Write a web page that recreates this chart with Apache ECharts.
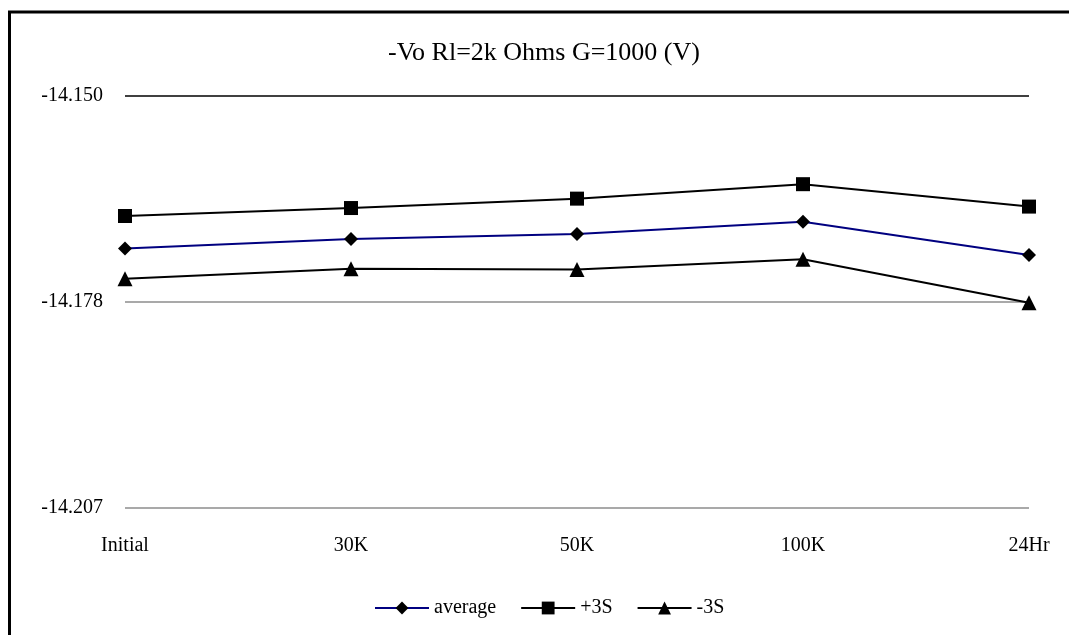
<!DOCTYPE html>
<html>
<head>
<meta charset="utf-8">
<script src="https://cdn.jsdelivr.net/npm/echarts@6/dist/echarts.min.js"></script>
<style>
  html, body { margin: 0; padding: 0; background: #fff; }
  #chart { width: 1069px; height: 635px; }
</style>
</head>
<body>
<div id="chart"></div>
<script>
// data
var categories = ['Initial', '30K', '50K', '100K', '24Hr'];
var average = [-14.1711, -14.1698, -14.1691, -14.1674, -14.1720];
var plus3S = [-14.1666, -14.1655, -14.1642, -14.1622, -14.1653];
var minus3S = [-14.1753, -14.1739, -14.1740, -14.1726, -14.1786];
var yTickLabels = ['-14.207', '-14.178', '-14.150'];

var chart = echarts.init(document.getElementById('chart'));
var font = 'Liberation Serif';

var option = {
  backgroundColor: '#fff',
  animation: false,
  textStyle: { fontFamily: font, color: '#000' },
  title: {
    text: '-Vo Rl=2k Ohms G=1000 (V)',
    left: 383,
    top: 35,
    textStyle: { fontFamily: font, fontSize: 26, fontWeight: 'normal', color: '#000' }
  },
  graphic: [{
    type: 'rect',
    shape: { x: 9.5, y: 12, width: 1200, height: 800 },
    style: { fill: 'none', stroke: '#000', lineWidth: 3 }
  }],
  legend: {
    bottom: 12,
    left: 369,
    itemWidth: 54,
    itemHeight: 16,
    itemGap: 24,
    textStyle: { fontFamily: font, fontSize: 20, color: '#000' },
    data: ['average', '+3S', '-3S']
  },
  grid: { left: 125, right: 40, top: 96, bottom: 127 },
  xAxis: {
    type: 'category',
    data: categories,
    boundaryGap: false,
    axisLine: { show: false },
    axisTick: { show: false },
    axisLabel: { fontFamily: font, fontSize: 20, color: '#000', margin: 28 }
  },
  yAxis: {
    type: 'value',
    min: -14.207,
    max: -14.150,
    interval: 0.0285,
    axisLine: { show: false },
    axisTick: { show: false },
    axisLabel: {
      fontFamily: font, fontSize: 20, color: '#000', margin: 22,
      formatter: function (v, i) { return yTickLabels[i]; }
    },
    splitLine: { lineStyle: { color: ['#8c8c8c', '#8c8c8c', '#000'], width: 1.5 } }
  },
  series: [
    {
      name: 'average', type: 'line', data: average,
      symbol: 'diamond', symbolSize: 14,
      lineStyle: { color: '#000080', width: 2 },
      itemStyle: { color: '#000', borderWidth: 0 }
    },
    {
      name: '+3S', type: 'line', data: plus3S,
      symbol: 'rect', symbolSize: 14,
      lineStyle: { color: '#000', width: 2 },
      itemStyle: { color: '#000', borderWidth: 0 }
    },
    {
      name: '-3S', type: 'line', data: minus3S,
      symbol: 'triangle', symbolSize: 15,
      lineStyle: { color: '#000', width: 2 },
      itemStyle: { color: '#000', borderWidth: 0 }
    }
  ]
};
chart.setOption(option);
</script>
</body>
</html>
